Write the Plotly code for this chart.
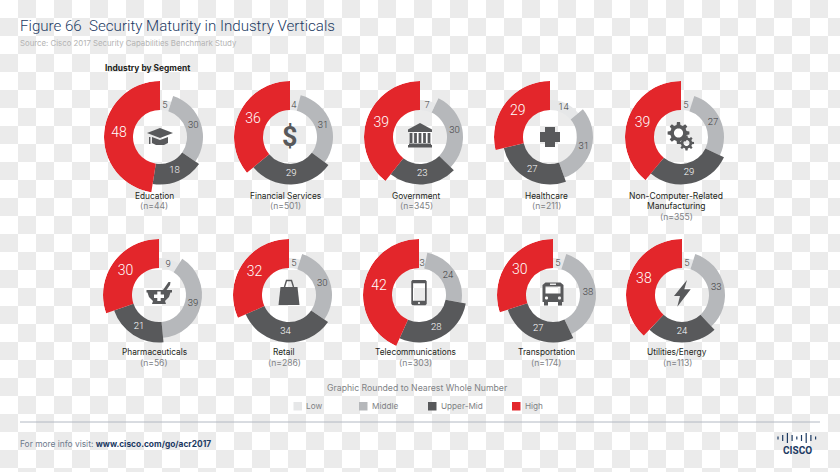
import math
import plotly.graph_objects as go

# ---- data ----
segments = ["Education", "Financial Services", "Government", "Healthcare",
            "Non-Computer-Related Manufacturing", "Pharmaceuticals", "Retail",
            "Telecommunications", "Transportation", "Utilities/Energy"]
counts = [44, 501, 345, 211, 355, 56, 286, 303, 174, 113]
low = [5, 4, 7, 14, 5, 9, 5, 3, 5, 5]
middle = [30, 31, 30, 31, 27, 39, 30, 24, 38, 33]
upper_mid = [18, 29, 23, 27, 29, 21, 34, 28, 27, 24]
high = [48, 36, 39, 29, 39, 30, 32, 42, 30, 38]
levels = ["Low", "Middle", "Upper-Mid", "High"]

# ---- style / layout ----
W, H = 840, 472
colors = ["#e6e7e8", "#b6b8bb", "#58595b", "#e3262b"]
label_colors = ["#3a3a3c", "#3a3a3c", "#ffffff", "#ffffff"]
label_sizes = [9.5, 9.5, 9.5, 14]
outer_r = [37, 43, 47.5, 56]
label_r = [32, 35, 37, 41]
hole = 27
centers = [(160, 137), (290, 137), (420, 137), (550, 137), (681, 137),
           (159, 295), (289, 295), (419, 295), (553, 295), (682, 295)]
caption_x = [154, 285, 416, 546, 676, 154, 284, 415, 546, 677]
label_rows = [[196, 206], [196, 206], [196, 206], [196, 206], [196, 206, 217],
              [352, 363], [352, 363], [352, 363], [352, 363], [352, 363]]
FONT = "Inter, Roboto, sans-serif"
LABEL_F = "Roboto, sans-serif"
ICON = "#58595b"
NAVY = "#1c3a63"


def px(x, y):
    return x / W, 1 - y / H


def poly(points, close=True):
    s = ""
    for i, (x, y) in enumerate(points):
        a, b = px(x, y)
        s += ("M" if i == 0 else "L") + f"{a:.5f},{b:.5f} "
    return s + ("Z " if close else "")


def rect(x0, y0, x1, y1):
    return poly([(x0, y0), (x1, y0), (x1, y1), (x0, y1)])


def circle(cx, cy, r, n=24):
    return poly([(cx + r * math.cos(2 * math.pi * i / n), cy + r * math.sin(2 * math.pi * i / n)) for i in range(n)])


def gear(cx, cy, ro, ri, hole_r, teeth):
    pts = []
    for i in range(teeth):
        a = 2 * math.pi * i / teeth
        w = 2 * math.pi / teeth
        for da, r in [(-0.30, ri), (-0.18, ro), (0.18, ro), (0.30, ri)]:
            pts.append((cx + r * math.cos(a + da * w), cy + r * math.sin(a + da * w)))
    return poly(pts) + circle(cx, cy, hole_r)


shapes = []


def add(path, fill=ICON, layer="above", rule="evenodd", line=None):
    shapes.append(dict(type="path", xref="paper", yref="paper", path=path, fillcolor=fill,
                       layer=layer, fillrule=rule, line=line or dict(width=0)))


# checker background
chk = ""
for j in range(H // 18 + 1):
    for i in range(W // 18 + 1):
        if (i + j) % 2:
            chk += rect(i * 18, j * 18, min((i + 1) * 18, W), min((j + 1) * 18, H))
add(chk, fill="#ebebeb", layer="below")

# icons
# education cap
cx, cy = centers[0]
add(poly([(cx - 13, cy - 4), (cx, cy - 9), (cx + 13, cy - 4), (cx, cy + 1)]))
add(poly([(cx - 8, cy), (cx, cy + 3), (cx + 8, cy), (cx + 8, cy + 6), (cx + 4, cy + 8), (cx - 4, cy + 8), (cx - 8, cy + 6)]))
add(rect(cx - 11, cy, cx - 9.6, cy + 7))
# government
cx, cy = centers[2]
add(poly([(cx, cy - 14), (cx + 12, cy - 7.5), (cx + 12, cy - 5), (cx - 12, cy - 5), (cx - 12, cy - 7.5)]))
for dx in (-9, -4.5, 0, 4.5, 9):
    add(rect(cx + dx - 1.4, cy - 4, cx + dx + 1.4, cy + 6))
add(rect(cx - 11, cy + 6.5, cx + 11, cy + 8))
add(rect(cx - 12, cy + 8, cx + 12, cy + 10.5))
# healthcare
cx, cy = centers[3]
add(poly([(cx - 5, cy - 10), (cx + 5, cy - 10), (cx + 5, cy - 5), (cx + 10, cy - 5), (cx + 10, cy + 5), (cx + 5, cy + 5),
          (cx + 5, cy + 10), (cx - 5, cy + 10), (cx - 5, cy + 5), (cx - 10, cy + 5), (cx - 10, cy - 5), (cx - 5, cy - 5)]))
# gears
cx, cy = centers[4]
add(gear(cx - 2.5, cy - 4, 11, 8.3, 4.6, 8))
add(gear(cx + 5.5, cy + 6, 7.6, 5.7, 3, 8))
# pharmaceuticals
cx, cy = centers[5]
add(poly([(cx - 12.5, cy - 5), (cx + 13, cy - 5), (cx + 13, cy - 2.5), (cx + 11.5, cy - 2.5), (cx + 10, cy + 2), (cx + 6, cy + 6),
          (cx + 7, cy + 9), (cx - 7, cy + 9), (cx - 6, cy + 6), (cx - 10, cy + 2), (cx - 11.5, cy - 2.5), (cx - 12.5, cy - 2.5)]))
add(poly([(cx + 4, cy - 5), (cx + 9.5, cy - 13), (cx + 11.5, cy - 13), (cx + 11, cy - 10), (cx + 7.5, cy - 5)]))
add(poly([(cx - 1.7, cy - 3.5), (cx + 1.7, cy - 3.5), (cx + 1.7, cy - 0.5), (cx + 5, cy - 0.5), (cx + 5, cy + 3), (cx + 1.7, cy + 3),
          (cx + 1.7, cy + 6), (cx - 1.7, cy + 6), (cx - 1.7, cy + 3), (cx - 5, cy + 3), (cx - 5, cy - 0.5), (cx - 1.7, cy - 0.5)]), fill="#ffffff")
# retail
cx, cy = centers[6]
add(poly([(cx - 8.5, cy - 8), (cx + 8.5, cy - 8), (cx + 10.5, cy + 10), (cx - 10.5, cy + 10)]))
add(poly([(cx - 4.5, cy - 8), (cx - 2.5, cy - 14.5), (cx + 2.5, cy - 14.5), (cx + 4.5, cy - 8)], close=False),
    fill="rgba(0,0,0,0)", line=dict(color=ICON, width=1.4))
# telecom
cx, cy = centers[7]
add(poly([(cx - 6.5, cy - 15), (cx + 6.5, cy - 15), (cx + 7.7, cy - 13.8), (cx + 7.7, cy + 9), (cx + 6.5, cy + 10.3), (cx - 6.5, cy + 10.3), (cx - 7.7, cy + 9), (cx - 7.7, cy - 13.8)])
    + rect(cx - 6, cy - 11.7, cx + 6, cy + 5.7) + circle(cx, cy + 8, 1.1, 12))
# bus
cx, cy = centers[8]
add(poly([(cx - 7.5, cy - 12.5), (cx + 7.5, cy - 12.5), (cx + 10.5, cy - 10), (cx + 10.5, cy + 7), (cx - 10.5, cy + 7), (cx - 10.5, cy - 10)])
    + rect(cx - 7.5, cy - 8.5, cx + 7.5, cy - 1.5) + rect(cx - 3, cy - 11.5, cx + 3, cy - 10)
    + circle(cx - 6.5, cy + 3, 1.6, 12) + circle(cx + 6.5, cy + 3, 1.6, 12))
add(rect(cx - 9, cy + 7, cx - 5, cy + 10.5))
add(rect(cx + 5, cy + 7, cx + 9, cy + 10.5))
# utilities
cx, cy = centers[9]
add(poly([(cx + 5, cy - 15), (cx - 8, cy + 1), (cx - 2, cy + 1), (cx - 4.7, cy + 11.7), (cx + 8.7, cy - 5.7), (cx + 2.3, cy - 5.7)]))

# legend swatches
legend_sw_x = [293.5, 359, 428, 512]
for x, c in zip(legend_sw_x, colors):
    add(rect(x, 402, x + 8.5, 410.5), fill=c)

# footer rule
add(poly([(20, 422), (820, 422)], close=False), fill="rgba(0,0,0,0)", line=dict(color="#b2b8c2", width=1))

# cisco logo bars
bar_h = [1.5, 3, 5, 3, 1.5, 3, 5, 3, 1.5]
for k, h in enumerate(bar_h):
    x = 778 + k * 4.7
    add(rect(x - 0.6, 438 - h, x + 0.6, 438 + h), fill=NAVY)

annotations = []


def text(x, y, s, size, color, anchor="left", family=FONT, weight=None):
    a, b = px(x, y)
    f = dict(size=size, color=color, family=family)
    if weight:
        f["weight"] = weight
    annotations.append(dict(x=a, y=b, xref="paper", yref="paper", text=s, showarrow=False,
                            xanchor=anchor, yanchor="middle", font=f,
                            xshift=0, yshift=0, borderpad=0, borderwidth=0))


text(20, 26, "Figure 66  Security Maturity in Industry Verticals", 15.1, NAVY, family="Roboto, sans-serif", weight=300)
text(20, 43, "Source: Cisco 2017 Security Capabilities Benchmark Study", 7.8, "#b3b3b3")
text(105, 68, "<b>Industry by Segment</b>", 8.4, "#231f20")
text(417, 388, "Graphic Rounded to Nearest Whole Number", 8.7, "#808285", anchor="center")
for x, s in zip([306, 371.5, 440.5, 524.5], levels):
    text(x, 406, s, 8.2, "#808285")
text(20, 444, "For more info visit: <b style='color:#1c3a63'><b>www.cisco.com/go/acr2017</b></b>", 8.4, "#6d7a8c")
text(797, 450, "<b>CISCO</b>", 10, NAVY, anchor="center", family="Roboto, sans-serif")
text(centers[1][0], centers[1][1], "<b>$</b>", 27, ICON, anchor="center", family="Roboto, sans-serif")

fig = go.Figure()
layout = {}
for n, seg in enumerate(segments):
    vals = [low[n], middle[n], upper_mid[n], high[n]]
    total = sum(vals)
    widths = [360 * v / total for v in vals]
    mids, acc = [], 0
    for w in widths:
        mids.append(acc + w / 2)
        acc += w
    name = "polar" if n == 0 else f"polar{n + 1}"
    cx, cy = centers[n]
    r = outer_r[-1]
    layout[name] = dict(
        domain=dict(x=[(cx - r) / W, (cx + r) / W], y=[1 - (cy + r) / H, 1 - (cy - r) / H]),
        bgcolor="rgba(0,0,0,0)",
        radialaxis=dict(visible=False, range=[0, r]),
        angularaxis=dict(visible=False, direction="clockwise", rotation=90),
    )
    fig.add_trace(go.Barpolar(
        theta=mids, width=widths, base=[hole] * 4, r=[o - hole for o in outer_r],
        marker=dict(color=colors, line=dict(width=0)), subplot=name, showlegend=False,
        hoverinfo="skip"))
    fig.add_trace(go.Scatterpolar(
        theta=mids, r=label_r, mode="text", text=[str(v) for v in vals],
        textfont=dict(size=label_sizes, color=label_colors, family=LABEL_F, weight=300),
        subplot=name, showlegend=False, hoverinfo="skip", cliponaxis=False))
    # captions
    rows = label_rows[n]
    tx = caption_x[n]
    if len(rows) == 3:
        text(tx, rows[0], "Non-Computer-Related", 8.5, "#231f20", anchor="center")
        text(tx, rows[1], "Manufacturing", 8.5, "#231f20", anchor="center")
    else:
        text(tx, rows[0], seg, 8.3, "#231f20", anchor="center")
    text(tx, rows[-1], f"(n={counts[n]})", 8.6, "#808285", anchor="center")

fig.update_layout(width=W, height=H, margin=dict(l=0, r=0, t=0, b=0), autosize=False,
                  paper_bgcolor="#ffffff", plot_bgcolor="#ffffff",
                  shapes=shapes, annotations=annotations, **layout)
fig.write_html("out.html", config=dict(displayModeBar=False),
               post_script="document.body.style.margin='0';")
